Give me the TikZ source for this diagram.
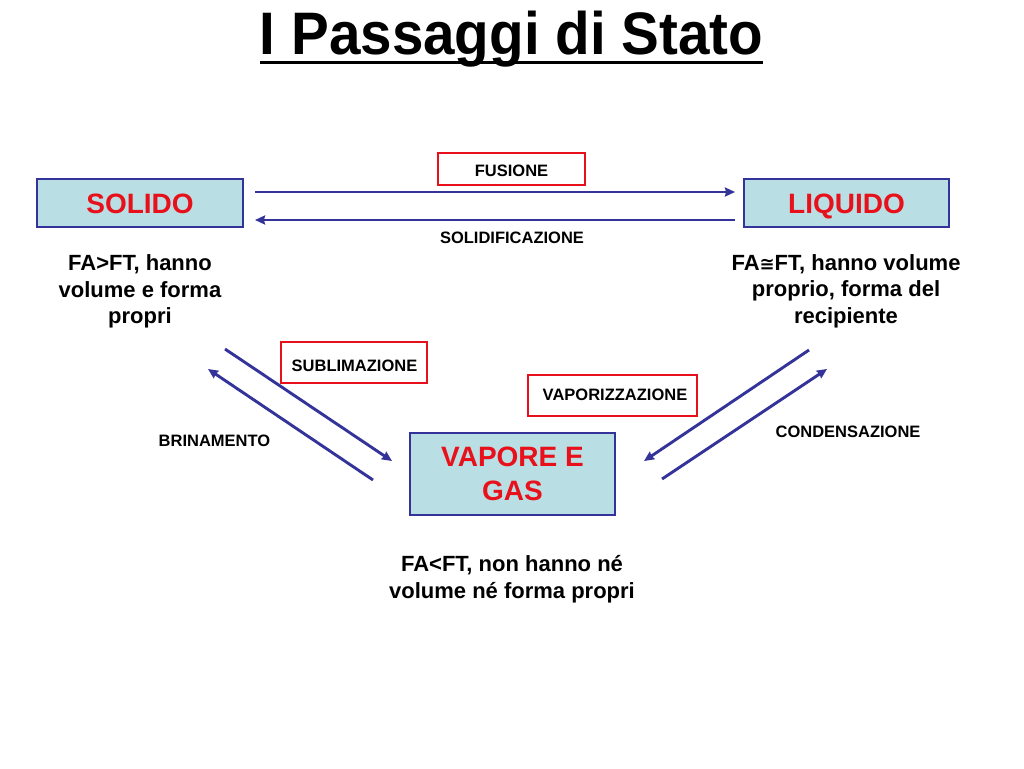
\documentclass[tikz,border=0pt]{standalone}
\usepackage{fontspec}
\setmainfont{Liberation Sans}
\newfontfamily\dejavu{DejaVu Sans}
\usetikzlibrary{arrows.meta}
\definecolor{arrblue}{RGB}{51,51,153}
\definecolor{boxfill}{RGB}{185,223,229}
\definecolor{statered}{RGB}{232,16,26}
\tikzset{
  statebox/.style={draw=arrblue, line width=2.6pt, fill=boxfill, inner sep=0pt,
    text=statered, font=\bfseries\fontsize{28}{34}\selectfont, align=center},
  labelbox/.style={draw=statered, line width=2.6pt, fill=white, inner sep=0pt},
  smalltxt/.style={inner sep=0pt, font=\bfseries\fontsize{16.5}{20}\selectfont, text height=11.8pt, text depth=0pt},
  desctxt/.style={inner sep=0pt, font=\bfseries\fontsize{22}{26.5}\selectfont, align=center},
  trans/.style={draw=arrblue, line width=2.9pt, -{Stealth[length=10pt,width=9pt,inset=1pt]}}
}
\begin{document}
\begin{tikzpicture}[x=1pt,y=-1pt]
\useasboundingbox (0,0) rectangle (1024,768);
% title
\node[inner sep=0pt, anchor=base, font=\bfseries\fontsize{60}{70}\selectfont] (title) at (511.5,55) {\scalebox{0.943}[1]{I Passaggi di Stato}};
\coordinate (ul1) at (260,62.5);
\coordinate (ul2) at (763,62.5);
\draw[line width=3pt] (ul1) -- (ul2);
% state boxes
\node[statebox, minimum width=206pt, minimum height=48pt, text height=20pt, text depth=0pt] (solido) at (140,203) {SOLIDO};
\node[statebox, minimum width=205pt, minimum height=48pt, text height=20pt, text depth=0pt] (liquido) at (846.5,203) {LIQUIDO};
\node[statebox, minimum width=205pt, minimum height=82pt] (vapore) at (512.5,474) {VAPORE E\\GAS};
% descriptions
\node[desctxt] (dsol) at (140,291.5) {FA>FT, hanno\\volume e forma\\propri};
\node[desctxt] (dliq) at (846,291) {FA{\dejavu\fontsize{18}{20}\selectfont ≅}FT, hanno volume\\proprio, forma del\\recipiente};
\node[desctxt] (dvap) at (512,579) {FA<FT, non hanno né\\volume né forma propri};
% label boxes
\node[labelbox, minimum width=147pt, minimum height=32pt] (fusbox) at (511.5,169) {};
\node[smalltxt] (fus) at (511.5,171) {FUSIONE};
\node[labelbox, minimum width=146pt, minimum height=41pt] (subbox) at (354,362.5) {};
\node[smalltxt] (sub) at (354.5,365.5) {SUBLIMAZIONE};
\node[labelbox, minimum width=169pt, minimum height=41pt] (vapbox) at (612.5,395.5) {};
\node[smalltxt] (vap) at (615,394.5) {VAPORIZZAZIONE};
\node[smalltxt] (sol) at (512,238) {SOLIDIFICAZIONE};
\node[smalltxt] (bri) at (214.5,441) {BRINAMENTO};
\node[smalltxt] (con) at (848,432) {CONDENSAZIONE};
% arrow endpoints
\coordinate (f1) at (255,192);
\coordinate (f2) at (735,192);
\coordinate (s1) at (735,220);
\coordinate (s2) at (255,220);
\coordinate (sb1) at (225,349);
\coordinate (sb2) at (392,461);
\coordinate (br1) at (373,480);
\coordinate (br2) at (208,369);
\coordinate (vp1) at (809,350);
\coordinate (vp2) at (644,461);
\coordinate (cd1) at (662,479);
\coordinate (cd2) at (827,369);
\draw[trans] (f1) -- (f2);
\draw[trans] (s1) -- (s2);
\draw[trans] (sb1) -- (sb2);
\draw[trans] (br1) -- (br2);
\draw[trans] (vp1) -- (vp2);
\draw[trans] (cd1) -- (cd2);
\end{tikzpicture}
\end{document}
